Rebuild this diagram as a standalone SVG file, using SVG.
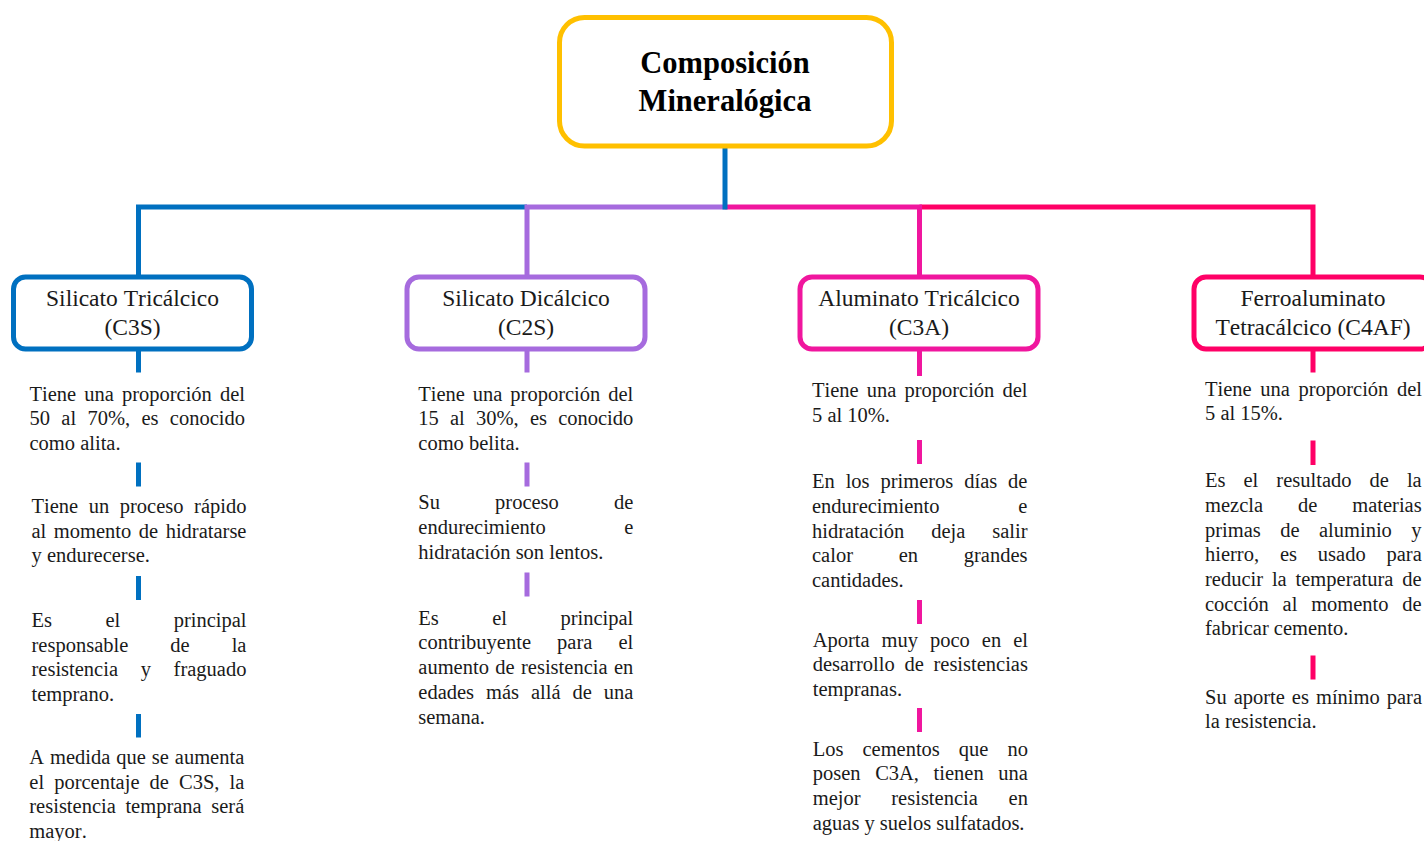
<svg xmlns="http://www.w3.org/2000/svg" width="1424" height="841" viewBox="0 0 1424 841">
<style>
  .t { font-family: "Liberation Serif", "Times New Roman", serif; font-size: 20.5px; fill: #1a1a1a; font-kerning: none; }
  .lbl { font-family: "Liberation Serif", "Times New Roman", serif; font-size: 23.5px; fill: #1a1a1a; text-anchor: middle; font-kerning: none; }
  .title { font-family: "Liberation Serif", "Times New Roman", serif; font-size: 30.5px; font-weight: bold; fill: #000; text-anchor: middle; }
  .box { fill: #fff; stroke-width: 5; }
  .ln { fill: none; stroke-width: 5; stroke-linejoin: miter; stroke-linecap: butt; }
  .blue { stroke: #0070C0; }
  .purple { stroke: #A66BDE; }
  .magenta { stroke: #F0169E; }
  .red { stroke: #FF0066; }
</style>
<rect width="1424" height="841" fill="#fff"/>

<g id="connectors">
  <path class="ln blue" d="M138.5,277 V207 H527"/>
  <path class="ln purple" d="M527,277 V207 H725"/>
  <path class="ln red" d="M1313,277 V207 H919.5"/>
  <path class="ln magenta" d="M919.5,277 V207 H725"/>
  <path class="ln blue" d="M725,146 V209.5"/>
  <!-- column ticks -->
  <path class="ln blue" d="M138.5,349 V372.5 M138.5,462.5 V486.5 M138.5,576 V600 M138.5,714 V737.5"/>
  <path class="ln purple" d="M527,349 V372.5 M527,462.5 V486.5 M527,572.5 V596.5"/>
  <path class="ln magenta" d="M919.5,349 V376 M919.5,440 V464 M919.5,600 V624 M919.5,708 V732"/>
  <path class="ln red" d="M1313,349 V372.5 M1313,440.5 V465 M1313,655.5 V679.5"/>
</g>

<g id="root">
  <rect class="box" x="559.5" y="17.5" width="332" height="128.5" rx="25" stroke="#FFC000"/>
  <text class="title" x="725" y="73">Composición</text>
  <text class="title" x="725" y="110.5">Mineralógica</text>
</g>

<g id="c3s">
  <rect class="box blue" x="13.5" y="277" width="238" height="72" rx="12"/>
  <text class="lbl" x="132.5" y="306">Silicato Tricálcico</text>
  <text class="lbl" x="132.5" y="334.5">(C3S)</text>
</g>
<g id="c2s">
  <rect class="box purple" x="407" y="277" width="238" height="72" rx="12"/>
  <text class="lbl" x="526" y="306">Silicato Dicálcico</text>
  <text class="lbl" x="526" y="334.5">(C2S)</text>
</g>
<g id="c3a">
  <rect class="box magenta" x="800" y="277" width="238" height="72" rx="12"/>
  <text class="lbl" x="919" y="306">Aluminato Tricálcico</text>
  <text class="lbl" x="919" y="334.5">(C3A)</text>
</g>
<g id="c4af">
  <rect class="box red" x="1194" y="277" width="238" height="72" rx="12"/>
  <text class="lbl" x="1313" y="306">Ferroaluminato</text>
  <text class="lbl" x="1313" y="334.5">Tetracálcico (C4AF)</text>
</g>

<g id="c3s-notes">
  <text class="t" x="29.5" y="400.5" style="word-spacing:2.95px">Tiene una proporción del</text>
  <text class="t" x="29.5" y="425" style="word-spacing:6.2px">50 al 70%, es conocido</text>
  <text class="t" x="29.5" y="449.5">como alita.</text>

  <text class="t" x="31.5" y="513" style="word-spacing:5.43px">Tiene un proceso rápido</text>
  <text class="t" x="31.5" y="537.5" style="word-spacing:2.4px">al momento de hidratarse</text>
  <text class="t" x="31.5" y="562">y endurecerse.</text>

  <text class="t" x="31.5" y="627" style="word-spacing:48.3px">Es el principal</text>
  <text class="t" x="31.5" y="651.5" style="word-spacing:36.9px">responsable de la</text>
  <text class="t" x="31.5" y="676" style="word-spacing:17.55px">resistencia y fraguado</text>
  <text class="t" x="31.5" y="700.5">temprano.</text>

  <text class="t" x="29.3" y="764" style="word-spacing:0.8px">A medida que se aumenta</text>
  <text class="t" x="29.3" y="788.5" style="word-spacing:4.93px">el porcentaje de C3S, la</text>
  <text class="t" x="29.3" y="813" style="word-spacing:4.45px">resistencia temprana será</text>
  <text class="t" x="29.3" y="837.5">mayor.</text>
</g>

<g id="c2s-notes">
  <text class="t" x="418.3" y="400.5" style="word-spacing:2.78px">Tiene una proporción del</text>
  <text class="t" x="418.3" y="425" style="word-spacing:6.07px">15 al 30%, es conocido</text>
  <text class="t" x="418.3" y="450">como belita.</text>

  <text class="t" x="418.3" y="509" style="word-spacing:50px">Su proceso de</text>
  <text class="t" x="418.3" y="533.5" style="word-spacing:73.2px">endurecimiento e</text>
  <text class="t" x="418.3" y="558.5">hidratación son lentos.</text>

  <text class="t" x="418.3" y="624.5" style="word-spacing:48.3px">Es el principal</text>
  <text class="t" x="418.3" y="649" style="word-spacing:20.97px">contribuyente para el</text>
  <text class="t" x="418.3" y="674" style="word-spacing:1.27px">aumento de resistencia en</text>
  <text class="t" x="418.3" y="699" style="word-spacing:6.78px">edades más allá de una</text>
  <text class="t" x="418.3" y="723.5">semana.</text>
</g>

<g id="c3a-notes">
  <text class="t" x="812" y="396.5" style="word-spacing:2.95px">Tiene una proporción del</text>
  <text class="t" x="812" y="421.5">5 al 10%.</text>

  <text class="t" x="812" y="488" style="word-spacing:5.75px">En los primeros días de</text>
  <text class="t" x="812" y="512.5" style="word-spacing:73.7px">endurecimiento e</text>
  <text class="t" x="812" y="537.5" style="word-spacing:21.8px">hidratación deja salir</text>
  <text class="t" x="812" y="562" style="word-spacing:40.6px">calor en grandes</text>
  <text class="t" x="812" y="587">cantidades.</text>

  <text class="t" x="812.7" y="646.5" style="word-spacing:6.85px">Aporta muy poco en el</text>
  <text class="t" x="812.7" y="671" style="word-spacing:4.6px">desarrollo de resistencias</text>
  <text class="t" x="812.7" y="695.5">tempranas.</text>

  <text class="t" x="812.7" y="755.5" style="word-spacing:13.87px">Los cementos que no</text>
  <text class="t" x="812.7" y="780" style="word-spacing:9.5px">posen C3A, tienen una</text>
  <text class="t" x="812.7" y="805" style="word-spacing:25.65px">mejor resistencia en</text>
  <text class="t" x="812.7" y="829.5">aguas y suelos sulfatados.</text>
</g>

<g id="c4af-notes">
  <text class="t" x="1205" y="395.5" style="word-spacing:3.45px">Tiene una proporción del</text>
  <text class="t" x="1205" y="420">5 al 15%.</text>

  <text class="t" x="1205" y="487" style="word-spacing:12.9px">Es el resultado de la</text>
  <text class="t" x="1205" y="511.5" style="word-spacing:29.8px">mezcla de materias</text>
  <text class="t" x="1205" y="536.5" style="word-spacing:14.3px">primas de aluminio y</text>
  <text class="t" x="1205" y="561" style="word-spacing:15.7px">hierro, es usado para</text>
  <text class="t" x="1205" y="586" style="word-spacing:3.73px">reducir la temperatura de</text>
  <text class="t" x="1205" y="610.5" style="word-spacing:8.67px">cocción al momento de</text>
  <text class="t" x="1205" y="635">fabricar cemento.</text>

  <text class="t" x="1205" y="703.5" style="word-spacing:1.87px">Su aporte es mínimo para</text>
  <text class="t" x="1205" y="728">la resistencia.</text>
</g>
</svg>
